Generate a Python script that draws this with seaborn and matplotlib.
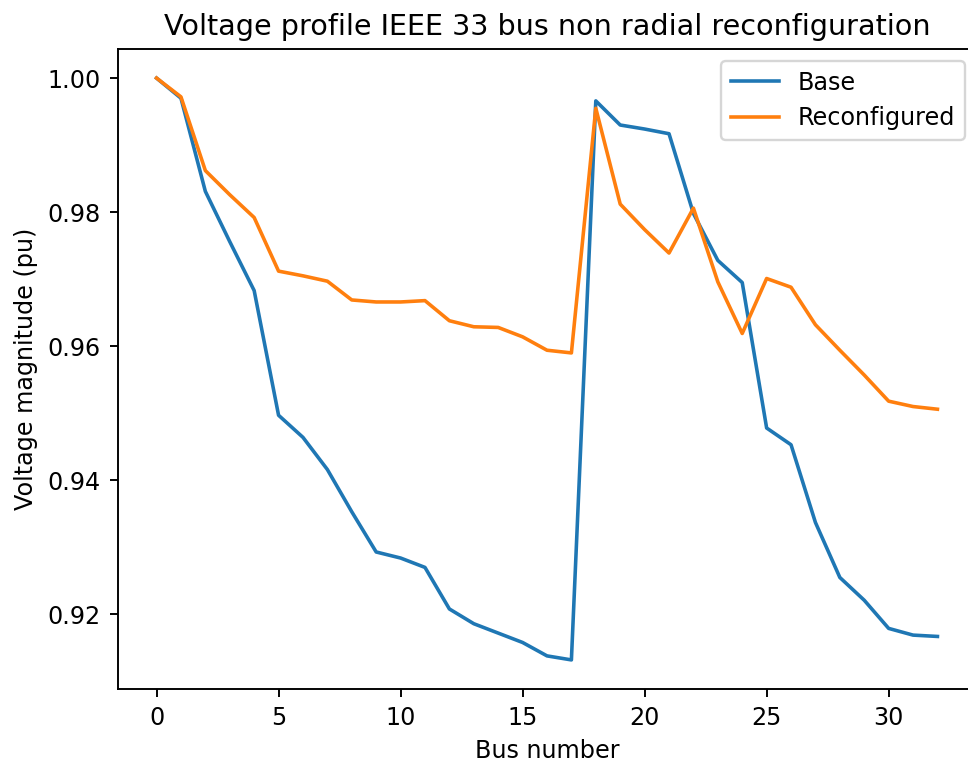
import pandas as pd
import matplotlib
matplotlib.use("Agg")
import matplotlib.pyplot as plt
import seaborn as sns

# Bus voltages
bus = list(range(33))
base_v = [1.0000, 0.9970, 0.9831, 0.9756, 0.9683, 0.9497, 0.9464, 0.9416, 0.9353,
          0.9293, 0.9284, 0.9270, 0.9208, 0.9186, 0.9172, 0.9158, 0.9138, 0.9132,
          0.9966, 0.9930, 0.9924, 0.9917, 0.9798, 0.9728, 0.9695, 0.9478, 0.9453,
          0.9337, 0.9255, 0.9221, 0.9179, 0.9169, 0.9167]
reconf_v = [1.0000, 0.9972, 0.9862, 0.9826, 0.9792, 0.9712, 0.9705, 0.9697, 0.9669,
            0.9666, 0.9666, 0.9668, 0.9638, 0.9629, 0.9628, 0.9614, 0.9594, 0.9590,
            0.9955, 0.9812, 0.9774, 0.9739, 0.9806, 0.9696, 0.9619, 0.9701, 0.9688,
            0.9632, 0.9594, 0.9557, 0.9518, 0.9510, 0.9506]

df = pd.DataFrame({"bus": bus, "base": base_v, "reconf": reconf_v})

dpi = 172
fig = plt.figure(figsize=(968 / dpi, 764 / dpi), dpi=dpi)
# axes run a little past the right edge, as in the reference crop
ax = fig.add_axes([117.5 / 968, 75 / 764, 859 / 968, 640 / 764])

sns.lineplot(data=df, x="bus", y="base", color="#1f77b4", linewidth=1.5, label="Base", ax=ax)
sns.lineplot(data=df, x="bus", y="reconf", color="#ff7f0e", linewidth=1.5, label="Reconfigured", ax=ax)

ax.set_title("Voltage profile IEEE 33 bus non radial reconfiguration", fontsize=12)
ax.set_xlabel("Bus number")
ax.set_ylabel("Voltage magnitude (pu)")
ax.legend(loc="upper right")

fig.savefig("out.png", dpi=dpi)
